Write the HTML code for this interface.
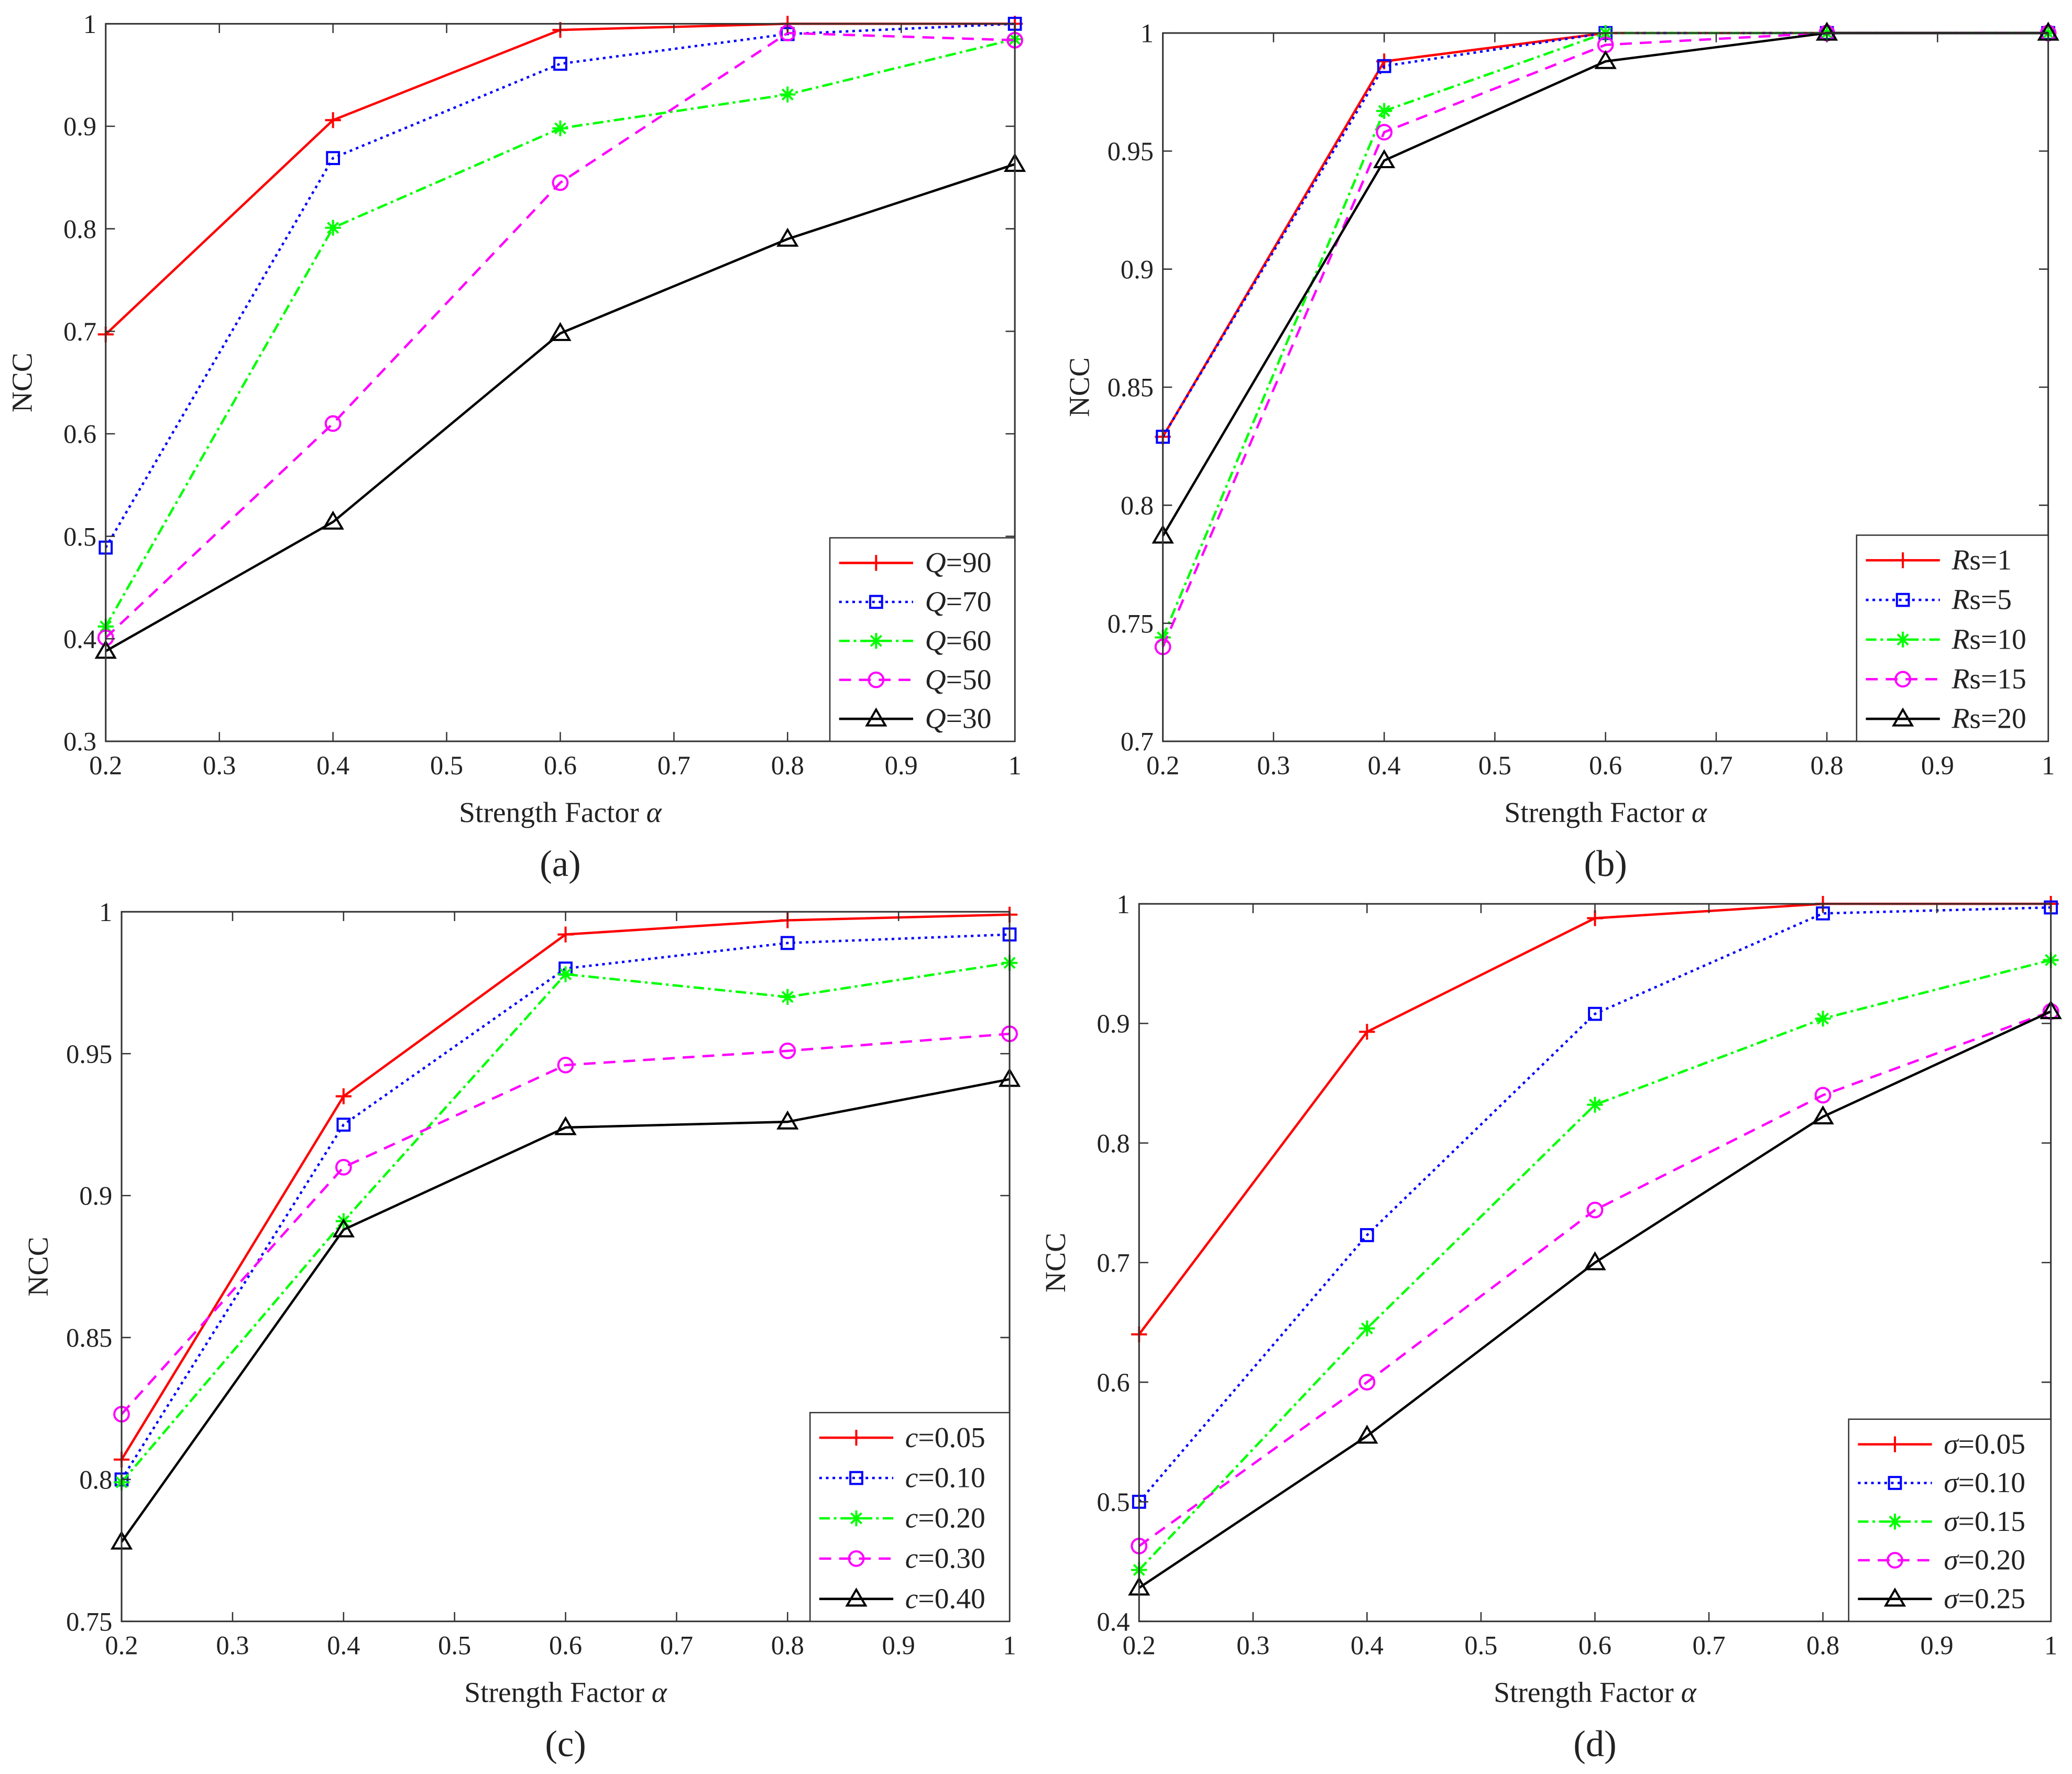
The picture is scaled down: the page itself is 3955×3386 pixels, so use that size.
<!DOCTYPE html>
<html><head><meta charset="utf-8"><style>
html,body{margin:0;padding:0;background:#fff}
svg{display:block}
text{font-family:"Liberation Serif",serif;fill:#222}
</style></head><body>
<svg id="fig" width="3955" height="3386" viewBox="0 0 1568 1342.5" preserveAspectRatio="none" xmlns="http://www.w3.org/2000/svg"></svg>
<script>
const xTicks=[0.2,0.3,0.4,0.5,0.6,0.7,0.8,0.9,1];
const xVals=[0.2,0.4,0.6,0.8,1];
const aNames=["Q=90","Q=70","Q=60","Q=50","Q=30"];
const aQ90=[0.697,0.906,0.994,1,1];
const aQ70=[0.489,0.869,0.961,0.990,1];
const aQ60=[0.412,0.801,0.898,0.931,0.985];
const aQ50=[0.401,0.610,0.845,0.991,0.984];
const aQ30=[0.388,0.514,0.698,0.790,0.863];
const aYTicks=[0.3,0.4,0.5,0.6,0.7,0.8,0.9,1];
const bRs1=[0.829,0.988,1,1,1];
const bRs5=[0.829,0.986,1,1,1];
const bRs10=[0.744,0.967,1,1,1];
const bRs15=[0.740,0.958,0.995,1,1];
const bRs20=[0.787,0.946,0.988,1,1];
const bYTicks=[0.7,0.75,0.8,0.85,0.9,0.95,1];
const cC05=[0.807,0.935,0.992,0.997,0.999];
const cC10=[0.800,0.925,0.980,0.989,0.992];
const cC20=[0.799,0.891,0.978,0.970,0.982];
const cC30=[0.823,0.910,0.946,0.951,0.957];
const cC40=[0.778,0.888,0.924,0.926,0.941];
const cYTicks=[0.75,0.8,0.85,0.9,0.95,1];
const dS05=[0.640,0.893,0.988,1,1];
const dS10=[0.500,0.723,0.908,0.992,0.997];
const dS15=[0.443,0.645,0.832,0.904,0.953];
const dS20=[0.463,0.600,0.744,0.840,0.910];
const dS25=[0.428,0.555,0.700,0.822,0.910];
const dYTicks=[0.4,0.5,0.6,0.7,0.8,0.9,1];

const NS="http://www.w3.org/2000/svg";
const svg=document.getElementById('fig');
function mk(tag,attrs,parent){const e=document.createElementNS(NS,tag);for(const k in attrs)e.setAttribute(k,attrs[k]);(parent||svg).appendChild(e);return e;}
const colors=["#ff0000","#0000ff","#00ff00","#ff00ff","#000000"];
const dashes=["","2,3","8,3,2,3","9,6",""];
const markers=["plus","square","star","circle","tri"];
function marker(g,t,x,y,c){
  const s=6;
  if(t==="plus"){mk('path',{d:`M${x-s},${y}H${x+s}M${x},${y-s}V${y+s}`,stroke:c,'stroke-width':1.6,fill:'none'},g);}
  else if(t==="square"){mk('rect',{x:x-4.5,y:y-4.5,width:9,height:9,stroke:c,'stroke-width':1.6,fill:'none'},g);}
  else if(t==="star"){mk('path',{d:`M${x-s},${y}H${x+s}M${x},${y-s}V${y+s}M${x-4},${y-4}L${x+4},${y+4}M${x-4},${y+4}L${x+4},${y-4}`,stroke:c,'stroke-width':1.6,fill:'none'},g);}
  else if(t==="circle"){mk('circle',{cx:x,cy:y,r:5.5,stroke:c,'stroke-width':1.6,fill:'none'},g);}
  else {mk('path',{d:`M${x},${y-7}L${x+7},${y+5}L${x-7},${y+5}Z`,stroke:c,'stroke-width':1.6,fill:'none'},g);}
}
function panel(p){
  const g=mk('g',{});
  
  
  const sx=v=>p.x0+(v-0.2)/(0.8)*(p.x1-p.x0);
  const sy=v=>p.y1-(v-p.ymin)/(p.ymax-p.ymin)*(p.y1-p.y0);
  p.series.forEach((s,i)=>{
    const sg=mk('g',{},g);
    
    
    const pts=s.map((v,j)=>sx(xVals[j])+','+sy(v)).join(' ');
    mk('polyline',{points:pts,fill:'none',stroke:colors[i],'stroke-width':1.8,'stroke-dasharray':dashes[i]},sg);
    s.forEach((v,j)=>marker(sg,markers[i],sx(xVals[j]),sy(v),colors[i]));
  });
  mk('rect',{x:p.x0,y:p.y0,width:p.x1-p.x0,height:p.y1-p.y0,fill:'none',stroke:'#333','stroke-width':1.2},g);
  xTicks.forEach(t=>{const x=sx(t);
    mk('path',{d:`M${x},${p.y1}v-7M${x},${p.y0}v7`,stroke:'#333','stroke-width':1},g);
    const tx=mk('text',{x:x,y:p.y1+25,'text-anchor':'middle','font-size':20},g);tx.textContent=String(t);
    
    
  });
  p.yTicks.forEach(t=>{const y=sy(t);
    mk('path',{d:`M${p.x0},${y}h7M${p.x1},${y}h-7`,stroke:'#333','stroke-width':1},g);
    const tx=mk('text',{x:p.x0-7,y:y+7,'text-anchor':'end','font-size':20},g);tx.textContent=String(t);
    
    
  });
  const yl=mk('text',{x:0,y:0,'text-anchor':'middle','font-size':22,transform:`translate(${p.x0-56},${(p.y0+p.y1)/2}) rotate(-90)`},g);yl.textContent='NCC';
  
  
  const xl=mk('text',{x:(p.x0+p.x1)/2,y:p.y1+61,'text-anchor':'middle','font-size':22},g);
  xl.innerHTML='Strength Factor <tspan font-style="italic">\u03b1</tspan>';
  
  
  const pl=mk('text',{x:(p.x0+p.x1)/2,y:p.y1+102,'text-anchor':'middle','font-size':28},g);pl.textContent=p.tag;
  
  
  const L=p.leg;
  const lg=mk('g',{},g);
  
  
  mk('rect',{x:L.x0,y:L.y0,width:L.x1-L.x0,height:p.y1-L.y0,fill:'#fff',stroke:'#333','stroke-width':1},lg);
  const step=(p.y1-L.y0-36)/4;
  p.labels.forEach((lab,i)=>{
    const y=L.y0+19+i*step;
    const eg=mk('g',{},lg);
    
    
    mk('line',{x1:L.x0+7,x2:L.x0+63,y1:y,y2:y,stroke:colors[i],'stroke-width':1.8,'stroke-dasharray':dashes[i]},eg);
    marker(eg,markers[i],L.x0+35,y,colors[i]);
    const m=lab.match(/^([A-Za-z\u03c3]+)(.*)$/);
    let it=m[1],rest=m[2];
    if(it==="Rs"){it="R";rest="s"+rest;}
    const t=mk('text',{x:L.x0+72,y:y+7,'font-size':22},eg);
    t.innerHTML=`<tspan font-style="italic">${it}</tspan>${rest}`;
  });
}
panel({name:'panel-a',tag:'(a)',x0:80,x1:768,y0:18,y1:561,ymin:0.3,ymax:1,yTicks:aYTicks,
  series:[aQ90,aQ70,aQ60,aQ50,aQ30],labels:aNames,leg:{x0:628,x1:768,y0:407}});
panel({name:'panel-b',tag:'(b)',x0:880,x1:1550,y0:25,y1:561,ymin:0.7,ymax:1,yTicks:bYTicks,
  series:[bRs1,bRs5,bRs10,bRs15,bRs20],labels:["Rs=1","Rs=5","Rs=10","Rs=15","Rs=20"],leg:{x0:1405,x1:1550,y0:405}});
panel({name:'panel-c',tag:'(c)',x0:92,x1:764,y0:690,y1:1227,ymin:0.75,ymax:1,yTicks:cYTicks,
  series:[cC05,cC10,cC20,cC30,cC40],labels:["c=0.05","c=0.10","c=0.20","c=0.30","c=0.40"],leg:{x0:613,x1:764,y0:1069}});
panel({name:'panel-d',tag:'(d)',x0:862,x1:1552,y0:684,y1:1227,ymin:0.4,ymax:1,yTicks:dYTicks,
  series:[dS05,dS10,dS15,dS20,dS25],labels:["\u03c3=0.05","\u03c3=0.10","\u03c3=0.15","\u03c3=0.20","\u03c3=0.25"],leg:{x0:1399,x1:1552,y0:1074}});
</script>
</body></html>
